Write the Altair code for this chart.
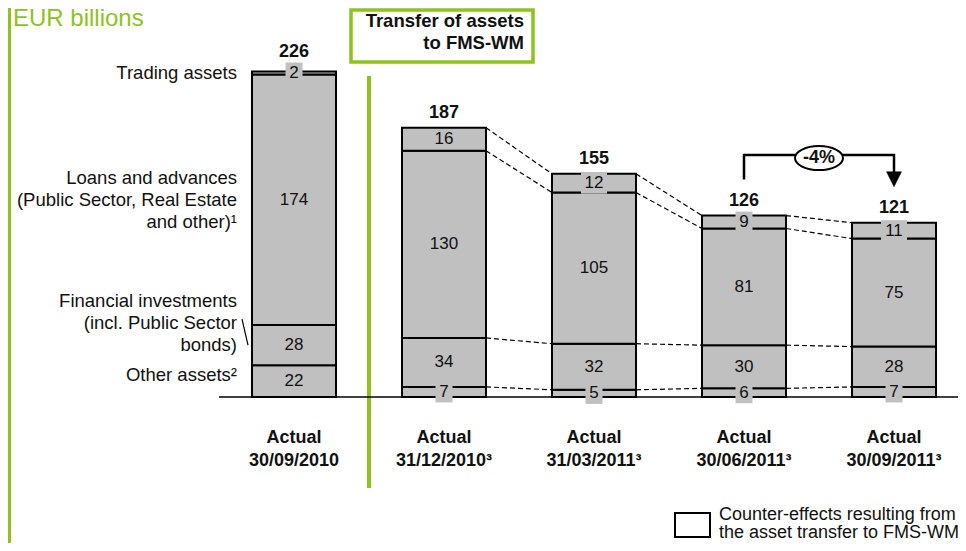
import altair as alt
import pandas as pd

# ---------------- data ----------------
period_dates = ["30/09/2010", "31/12/2010³", "31/03/2011³", "30/06/2011³", "30/09/2011³"]
totals = [226, 187, 155, 126, 121]
other_assets = [22, 7, 5, 6, 7]
financial_investments = [28, 34, 32, 30, 28]
loans_advances = [174, 130, 105, 81, 75]
trading_assets = [2, 16, 12, 9, 11]
segment_names = [
    "Other assets²",
    "Financial investments\n(incl. Public Sector\nbonds)",
    "Loans and advances\n(Public Sector, Real Estate\nand other)¹",
    "Trading assets",
]
title_text = "EUR billions"
transfer_text = "Transfer of assets\nto FMS-WM"
legend_text = "Counter-effects resulting from\nthe asset transfer to FMS-WM"

# ---------------- geometry / style ----------------
W, H = 950, 535
PX = 1.44          # pixels per EUR bn
BASE = 389         # zero line, px from top of view
X0, STEP = 286, 150
HALF = 0.28
GREEN = "#8dc21f"
GREY = "#c0c0c0"
FONT = "Liberation Sans"
INK = "#111111"
LH = 22

xs = alt.Scale(domain=[-X0 / STEP, (W - X0) / STEP], nice=False, zero=False)
ys = alt.Scale(domain=[-(H - BASE) / PX, BASE / PX], nice=False, zero=False)


def X(f):
    return alt.X(f, type="quantitative", scale=xs, axis=None)


def Y(f):
    return alt.Y(f, type="quantitative", scale=ys, axis=None)


seg_rows, box_rows, conn_rows, total_rows = [], [], [], []
levels, mids = [], []
for i in range(len(totals)):
    vals = [other_assets[i], financial_investments[i], loans_advances[i], trading_assets[i]]
    lo = 0
    lv, md = [], []
    for k, v in enumerate(vals):
        hi = totals[i] if k == 3 else lo + v
        mid = (lo + hi) / 2
        seg_rows.append(dict(x0=i - HALF, x1=i + HALF, xc=i, lo=lo, hi=hi, mid=mid, label=str(v)))
        if v < 15:
            hw = (8 + 9 * len(str(v))) / 2 / STEP
            hh = 10.5 / PX
            box_rows.append(dict(bx0=i - hw, bx1=i + hw, by0=mid - hh, by1=mid + hh))
        lv.append(hi)
        md.append(mid)
        lo = hi
    levels.append(lv)
    mids.append(md)
    ly = totals[i] + 15 / PX
    if trading_assets[i] < 15:
        ly = max(ly, md[3] + 10.5 / PX + 11 / PX)
    total_rows.append(dict(xc=i, ly=ly, label=str(totals[i])))

for i in range(1, len(totals) - 1):
    for k in range(4):
        conn_rows.append(dict(xa=i + HALF, ya=levels[i][k], xb=i + 1 - HALF, yb=levels[i + 1][k]))

seg_df = pd.DataFrame(seg_rows)
box_df = pd.DataFrame(box_rows)
conn_df = pd.DataFrame(conn_rows)
tot_df = pd.DataFrame(total_rows)

# left-hand category labels, positioned at the first bar's segments
# (first line of each label is drawn at cy)
offsets_px = [6, 2 * LH, LH, 0]
cat_df = pd.DataFrame(dict(
    cx=[-HALF - 15 / STEP] * 4,
    cy=[mids[0][k] + offsets_px[k] / PX for k in range(4)],
    name=segment_names,
))
lead_df = pd.DataFrame(dict(
    xa=[-HALF - 10 / STEP], ya=[mids[0][1] + 26 / PX],
    xb=[-HALF - 4 / STEP], yb=[mids[0][1]],
))

xlab_df = pd.DataFrame(dict(xc=list(range(len(totals))),
                            label=["Actual\n" + d for d in period_dates]))

# change bracket between last two bars
t4, t5 = totals[3], totals[4]
pct = round((t5 - t4) / t4 * 100)
h_level = t4 + 42
tip = t5 + 25
tri_c = tip + 7.5 / PX
br_df = pd.DataFrame(dict(bx=[3, 3, 4, 4], by=[t4 + 25, h_level, h_level, tri_c], o=[0, 1, 2, 3]))
tri_df = pd.DataFrame(dict(bx=[4], by=[tri_c]))
ell_df = pd.DataFrame(dict(bx=[3.5], by=[h_level - 3 / PX], label=[f"{pct}%"]))

one = pd.DataFrame(dict(a=[0]))

# ---------------- layers ----------------
left_border = alt.Chart(one).mark_rule(color=GREEN, strokeWidth=3).encode(
    x=alt.value(1.5), y=alt.value(0), y2=alt.value(H))

title = alt.Chart(one).mark_text(align="left", baseline="alphabetic", font=FONT,
                                 fontSize=24, color=GREEN).encode(
    x=alt.value(5), y=alt.value(18), text=alt.value(title_text))

transfer_box = alt.Chart(one).mark_rect(fillOpacity=0, stroke=GREEN, strokeWidth=3.5).encode(
    x=alt.value(343), x2=alt.value(525), y=alt.value(2), y2=alt.value(54))
transfer_txt = alt.Chart(one).mark_text(align="right", baseline="alphabetic", font=FONT,
                                        fontSize=18.5, fontWeight="bold", lineHeight=22,
                                        lineBreak="\n", color=INK).encode(
    x=alt.value(516), y=alt.value(19), text=alt.value(transfer_text))

divider = alt.Chart(one).mark_rule(color=GREEN, strokeWidth=4).encode(
    x=alt.X(datum=0.5, type="quantitative", scale=xs, axis=None),
    y=alt.value(68), y2=alt.value(480))

connectors = alt.Chart(conn_df).mark_rule(color="black", strokeWidth=1.2, strokeDash=[5, 3]).encode(
    x=X("xa"), y=Y("ya"), x2="xb", y2="yb")

bars = alt.Chart(seg_df).mark_rect(fill=GREY, stroke="black", strokeWidth=2).encode(
    x=X("x0"), x2="x1", y=Y("lo"), y2="hi")

baseline = alt.Chart(one).mark_rule(color="black", strokeWidth=1.6).encode(
    x=alt.X(datum=-0.5, type="quantitative", scale=xs, axis=None), x2=alt.value(W),
    y=alt.Y(datum=0, type="quantitative", scale=ys, axis=None))

boxes = alt.Chart(box_df).mark_rect(fill=GREY).encode(
    x=X("bx0"), x2="bx1", y=Y("by0"), y2="by1")

seg_labels = alt.Chart(seg_df).mark_text(font=FONT, fontSize=17, color=INK, baseline="middle").encode(
    x=X("xc"), y=Y("mid"), text="label:N")

tot_labels = alt.Chart(tot_df).mark_text(font=FONT, fontSize=18, fontWeight="bold",
                                         color=INK, baseline="middle").encode(
    x=X("xc"), y=Y("ly"), text="label:N")

cat_labels = alt.Chart(cat_df).mark_text(font=FONT, fontSize=18.5, color=INK, align="right",
                                         baseline="middle", lineBreak="\n", lineHeight=LH).encode(
    x=X("cx"), y=Y("cy"), text="name:N")

leader = alt.Chart(lead_df).mark_rule(color="black", strokeWidth=1.2).encode(
    x=X("xa"), y=Y("ya"), x2="xb", y2="yb")

x_labels = alt.Chart(xlab_df).mark_text(font=FONT, fontSize=18, fontWeight="bold", color=INK,
                                        baseline="middle", lineBreak="\n", lineHeight=22.5).encode(
    x=X("xc"), y=alt.value(430), text="label:N")

bracket = alt.Chart(br_df).mark_line(color="black", strokeWidth=2.5, strokeJoin="miter").encode(
    x=X("bx"), y=Y("by"), order="o:Q")
arrow = alt.Chart(tri_df).mark_point(shape="M -1 -1 L 1 -1 L 0 1 Z", size=225, filled=True,
                                     fill="black", stroke="black", strokeWidth=0.5, opacity=1).encode(
    x=X("bx"), y=Y("by"))
ellipse = alt.Chart(ell_df).mark_point(shape="M -1 0 A 1 0.5 0 1 0 1 0 A 1 0.5 0 1 0 -1 0 Z",
                                       size=48 * 48, filled=True, fill="white", stroke="black",
                                       strokeWidth=2, opacity=1).encode(
    x=X("bx"), y=Y("by"))
ell_text = alt.Chart(ell_df).mark_text(font=FONT, fontSize=18, fontWeight="bold", color=INK,
                                       baseline="middle").encode(
    x=X("bx"), y=Y("by"), text="label:N")

legend_box = alt.Chart(one).mark_rect(fill="white", stroke="black", strokeWidth=2).encode(
    x=alt.value(667), x2=alt.value(702), y=alt.value(505), y2=alt.value(529))
legend_txt = alt.Chart(one).mark_text(font=FONT, fontSize=18, color=INK, align="left",
                                      baseline="alphabetic", lineBreak="\n", lineHeight=18).encode(
    x=alt.value(711), y=alt.value(512), text=alt.value(legend_text))

chart = alt.layer(
    left_border, title, transfer_box, transfer_txt, divider, connectors, bars, baseline,
    boxes, seg_labels, tot_labels, cat_labels, leader, x_labels,
    bracket, arrow, ellipse, ell_text, legend_box, legend_txt,
).properties(
    width=W, height=H, padding=0, autosize=alt.AutoSizeParams(type="none"),
    background="white",
).configure_view(stroke=None)

chart.save("out.html", embed_options={"renderer": "svg", "actions": False})
